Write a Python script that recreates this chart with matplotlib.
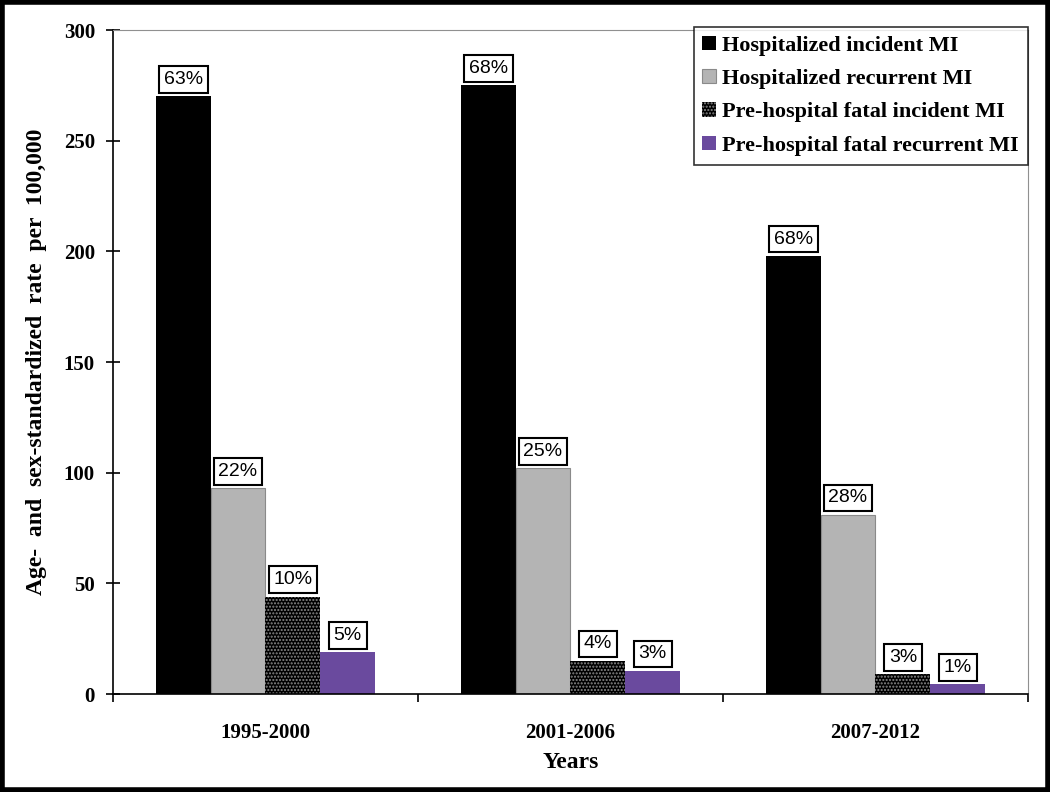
import matplotlib
matplotlib.use("Agg")
import matplotlib.pyplot as plt
import numpy as np
from matplotlib.patches import Rectangle

periods = ["1995-2000", "2001-2006", "2007-2012"]
series = ["Hospitalized incident MI", "Hospitalized recurrent MI",
          "Pre-hospital fatal incident MI", "Pre-hospital fatal recurrent MI"]
hosp_incident = [270, 275, 198]
hosp_recurrent = [93, 102, 81]
prehosp_incident = [44, 15, 9]
prehosp_recurrent = [19, 10.5, 4.5]
pct_hosp_incident = ["63%", "68%", "68%"]
pct_hosp_recurrent = ["22%", "25%", "28%"]
pct_prehosp_incident = ["10%", "4%", "3%"]
pct_prehosp_recurrent = ["5%", "3%", "1%"]

values = [hosp_incident, hosp_recurrent, prehosp_incident, prehosp_recurrent]
pcts = [pct_hosp_incident, pct_hosp_recurrent, pct_prehosp_incident, pct_prehosp_recurrent]
colors = ["#000000", "#b4b4b4", "#000000", "#6a4a9e"]

plt.rcParams['hatch.color'] = '#8a8a8a'
plt.rcParams['hatch.linewidth'] = 1.0

fig = plt.figure(figsize=(10.5, 7.92), dpi=100)
ax = fig.add_axes([0.1076, 0.1237, 0.9790 - 0.1076, 0.962 - 0.1237])

serif = "Liberation Serif"
x = np.arange(len(periods))
w = 0.18
for i, (vals, pc, col) in enumerate(zip(values, pcts, colors)):
    pos = x + (i - 1.5) * w
    if i == 2:
        ax.bar(pos, vals, w, color=col, edgecolor='#8a8a8a', linewidth=0,
               hatch='.....', label=series[i])
    elif i == 1:
        ax.bar(pos, vals, w, color=col, edgecolor='#8a8a8a', linewidth=0.8,
               label=series[i])
    else:
        ax.bar(pos, vals, w, color=col, edgecolor=col, linewidth=0,
               label=series[i])
    for p, v, t in zip(pos, vals, pc):
        ax.annotate(t, (p, v), xytext=(0, 6), textcoords='offset points',
                    ha='center', va='bottom', fontsize=14, family='Liberation Sans',
                    bbox=dict(boxstyle='square,pad=0.25', fc='white', ec='black', lw=1.5))

ax.set_xlim(-0.5, 2.5)
ax.set_ylim(0, 300)
ax.set_yticks([0, 50, 100, 150, 200, 250, 300])
ax.set_xticks(x)
ax.set_xticklabels(periods, fontsize=15, family=serif, fontweight='bold')
ax.tick_params(axis='x', which='major', length=0, pad=21)
ax.set_xticks([-0.5, 0.5, 1.5, 2.5], minor=True)
ax.tick_params(axis='x', which='minor', length=6, direction='out', width=1.2)
ax.tick_params(axis='y', length=10, direction='inout', width=1.2, pad=8)
for lab in ax.get_yticklabels():
    lab.set_fontsize(15)
    lab.set_family(serif)
    lab.set_fontweight('bold')

ax.spines['left'].set_linewidth(1.2)
ax.spines['bottom'].set_linewidth(1.2)
ax.spines['top'].set_color('#909090')
ax.spines['right'].set_color('#909090')

ax.set_xlabel("Years", fontsize=17, family=serif, fontweight='bold', labelpad=6)
ax.set_ylabel("Age-  and  sex-standardized  rate  per  100,000", fontsize=17,
              family=serif, fontweight='bold', labelpad=12)

leg = ax.legend(loc='upper right', bbox_to_anchor=(1.0, 1.005), borderaxespad=0,
                prop=dict(family=serif, weight='bold', size=16),
                handlelength=0.6, handleheight=0.6, handletextpad=0.3,
                frameon=True, fancybox=False, edgecolor='black', borderpad=0.4,
                labelspacing=0.6)
leg.get_frame().set_linewidth(1.2)

fig.patches.append(Rectangle((0.002, 0.003), 0.996, 0.994, transform=fig.transFigure,
                             fill=False, ec='black', lw=4))

fig.savefig("out.png", dpi=100)
